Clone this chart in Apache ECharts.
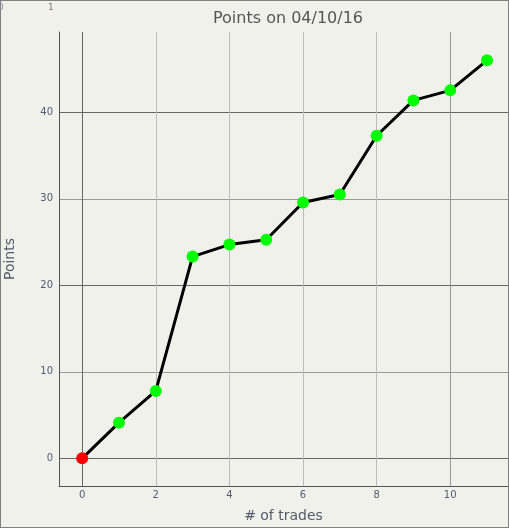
<!DOCTYPE html>
<html>
<head>
<meta charset="utf-8">
<script src="https://cdn.jsdelivr.net/npm/echarts@6/dist/echarts.min.js"></script>
<style>
html,body{margin:0;padding:0;background:#f1f1eb;}
#chart{width:509px;height:528px;}
</style>
</head>
<body>
<div id="chart"></div>
<script>
var trades = [0, 1, 2, 3, 4, 5, 6, 7, 8, 9, 10, 11];
var points = [0, 4.12, 7.79, 23.33, 24.72, 25.27, 29.58, 30.51, 37.30, 41.39, 42.55, 46.02];
var titleText = 'Points on 04/10/16';
var xName = '# of trades';
var yName = 'Points';

var seriesData = trades.map(function (t, i) {
  var item = { value: [t, points[i]] };
  if (i === 0) item.itemStyle = { color: '#ff0000' };
  return item;
});

var chart = echarts.init(document.getElementById('chart'), null, { renderer: 'canvas' });
var font = 'DejaVu Sans';
chart.setOption({
  backgroundColor: '#f1f1eb',
  animation: false,
  title: {
    text: titleText,
    left: 283, textAlign: 'center', top: 6,
    textStyle: { fontFamily: font, fontSize: 16, fontWeight: 'normal', color: '#555555' }
  },
  grid: { left: 59, right: 1, top: 32, bottom: 42, containLabel: false, outerBoundsMode: 'none' },
  xAxis: {
    type: 'value', min: -0.63, max: 11.57,
    name: xName, nameLocation: 'middle', nameGap: 23,
    nameTextStyle: { fontFamily: font, fontSize: 14, color: '#555a6a' },
    axisLine: { show: true, onZero: false, lineStyle: { color: '#555555', width: 1 } },
    axisTick: { show: false },
    axisLabel: { showMinLabel: false, showMaxLabel: false, margin: 4, fontFamily: font, fontSize: 10, color: '#555a70' },
    splitLine: { show: true, showMinLine: false, showMaxLine: false,
      lineStyle: { color: ['#666666', '#bdbdbd', '#bdbdbd', '#bdbdbd', '#bdbdbd', '#999999'], width: 1 } }
  },
  yAxis: {
    type: 'value', min: -3.2, max: 49.3,
    name: yName, nameLocation: 'middle', nameGap: 42,
    nameTextStyle: { fontFamily: font, fontSize: 14, color: '#555a6a' },
    axisLine: { show: true, onZero: false, lineStyle: { color: '#555555', width: 1 } },
    axisTick: { show: false },
    axisLabel: { showMinLabel: false, showMaxLabel: false, margin: 6, fontFamily: font, fontSize: 10, color: '#555a70' },
    splitLine: { show: true, showMinLine: false, showMaxLine: false,
      lineStyle: { color: ['#666666', '#999999'], width: 1 } }
  },
  series: [{
    type: 'line',
    data: seriesData,
    symbol: 'circle', symbolSize: 12,
    itemStyle: { color: '#00ff00' },
    lineStyle: { color: '#000000', width: 3 },
    z: 5
  }],
  graphic: [
    { type: 'rect', shape: { x: 0, y: 0, width: 509, height: 528 }, style: { fill: 'none', stroke: '#808080', lineWidth: 2 }, silent: true, z: 100 },
    { type: 'text', left: -2, top: 3, style: { text: '0', font: '9px DejaVu Sans', fill: '#8a8a9a' }, z: 100 },
    { type: 'text', left: 48, top: 3, style: { text: '1', font: '9px DejaVu Sans', fill: '#8a7a6a' }, z: 100 }
  ]
});
</script>
</body>
</html>
